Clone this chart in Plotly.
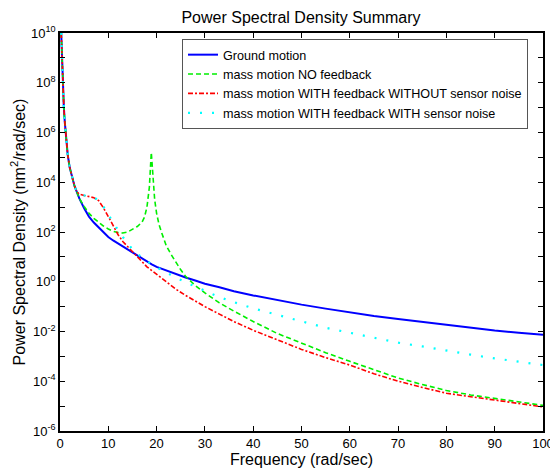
import plotly.graph_objects as go

# Frequencies (rad/sec) at which values were read
freq = [0.25, 0.4, 0.6, 0.8, 1.0, 1.3, 1.6, 2.0, 2.5, 3.0, 3.5, 4, 5, 6, 7, 8, 9, 10, 11, 12,
        13, 14, 15, 16, 17, 18, 19, 20, 22, 24, 26, 28, 30, 33, 36, 40, 45, 50, 55, 60,
        65, 70, 75, 80, 85, 90, 95, 100]

# log10 of PSD values
ground_log10 = [10.0, 8.9, 7.8, 7.0, 6.4, 5.7, 5.1, 4.6, 4.2, 3.85, 3.6, 3.35, 2.95, 2.62, 2.38, 2.18,
                1.98, 1.8, 1.66, 1.54, 1.41, 1.3, 1.18, 1.05, 0.92, 0.8, 0.7, 0.6, 0.45, 0.3,
                0.17, 0.05, -0.08, -0.22, -0.38, -0.55, -0.74, -0.92, -1.08, -1.24, -1.38,
                -1.5, -1.62, -1.73, -1.85, -1.96, -2.05, -2.13]

red_log10 = [10.0, 8.9, 7.8, 7.0, 6.4, 5.7, 5.1, 4.6, 4.2, 3.85, 3.62, 3.52, 3.47, 3.44, 3.38, 3.26,
             2.97, 2.62, 2.25, 1.9, 1.62, 1.42, 1.22, 0.99, 0.79, 0.6, 0.45, 0.3, 0.0, -0.3,
             -0.55, -0.78, -1.0, -1.3, -1.6, -1.95, -2.35, -2.72, -3.05, -3.35, -3.7, -4.0,
             -4.25, -4.48, -4.62, -4.75, -4.9, -5.03]

cyan_log10 = [10.0, 8.9, 7.8, 7.0, 6.4, 5.7, 5.1, 4.6, 4.2, 3.85, 3.62, 3.52, 3.47, 3.44, 3.38, 3.28,
              3.02, 2.7, 2.38, 2.08, 1.8, 1.55, 1.3, 1.12, 0.97, 0.83, 0.7, 0.58, 0.36, 0.17,
              -0.02, -0.2, -0.38, -0.62, -0.82, -1.07, -1.33, -1.6, -1.85, -2.05, -2.25,
              -2.45, -2.6, -2.78, -2.93, -3.08, -3.22, -3.35]

freq_nofb = [0.25, 0.4, 0.6, 0.8, 1.0, 1.3, 1.6, 2.0, 2.5, 3.0, 3.5, 4, 5, 6, 7, 8, 9, 10, 11, 12,
             13, 14, 15, 16, 17, 17.5, 18, 18.5, 18.9, 19.3, 19.6, 20, 20.5, 21, 22, 23, 24, 25,
             26, 27, 28, 30, 33, 36, 40, 45, 50, 55, 60, 65, 70, 75, 80, 85, 90, 95, 100]
nofb_log10 = [10.0, 8.9, 7.8, 7.0, 6.4, 5.7, 5.1, 4.6, 4.2, 3.85, 3.6, 3.35, 3.03, 2.75, 2.55, 2.38,
              2.24, 2.12, 2.03, 1.98, 1.96, 2.0, 2.1, 2.22, 2.4, 2.6, 3.0, 3.8, 5.2, 4.0, 3.3,
              2.75, 2.3, 2.0, 1.45, 1.1, 0.78, 0.48, 0.22, 0.02, -0.15, -0.45, -0.85, -1.18,
              -1.6, -2.08, -2.48, -2.85, -3.2, -3.55, -3.87, -4.13, -4.37, -4.55, -4.7, -4.85,
              -4.97]

names = ["Ground motion", "mass motion NO feedback",
         "mass motion WITH feedback WITHOUT sensor noise",
         "mass motion WITH feedback WITH sensor noise"]

y_exps = list(range(-6, 11))
y_ticktext = [f"10<sup>{e}</sup>" if e % 2 == 0 else "" for e in y_exps]
x_ticks = [0, 10, 20, 30, 40, 50, 60, 70, 80, 90, 100]


def to_psd(vals):
    return [10 ** v for v in vals]


fig = go.Figure()
fig.add_trace(go.Scatter(x=freq, y=to_psd(ground_log10), name=names[0], mode="lines",
                         line=dict(color="#0000ff", width=2)))
fig.add_trace(go.Scatter(x=freq_nofb, y=to_psd(nofb_log10), name=names[1], mode="lines",
                         line=dict(color="#00ee00", width=1.6, dash="5px,3px")))
fig.add_trace(go.Scatter(x=freq, y=to_psd(red_log10), name=names[2], mode="lines",
                         line=dict(color="#ff0000", width=1.6, dash="5px,2px,2px,2px")))
fig.add_trace(go.Scatter(x=freq, y=to_psd(cyan_log10), name=names[3], mode="lines",
                         line=dict(color="#00ffff", width=2.2, dash="2px,10px")))

font_family = "Liberation Sans, Arial, sans-serif"

# The page body has an 8px default margin, so the figure is 8px smaller each way.
W, H = 550, 461

fig.update_layout(
    width=W, height=H,
    margin=dict(l=52, r=15, t=25, b=38, autoexpand=False),
    paper_bgcolor="white", plot_bgcolor="white",
    font=dict(family=font_family, size=13, color="black"),
    title=dict(text="Power Spectral Density Summary", x=293 / W, xanchor="center",
               y=1 - 9 / H, yanchor="middle", yref="container",
               font=dict(size=16, color="black")),
    showlegend=True,
    legend=dict(x=0.2526, y=0.985, xanchor="left", yanchor="top",
                bordercolor="#555555", borderwidth=1, bgcolor="white",
                font=dict(size=12.6, color="black"), tracegroupgap=0),
    xaxis=dict(range=[0, 100], tickvals=x_ticks, ticks="inside", ticklen=5,
               tickcolor="black", showline=True, linecolor="black", linewidth=1.5,
               mirror="ticks", showgrid=False, zeroline=False, automargin=False,
               title=dict(text="Frequency (rad/sec)", font=dict(size=16), standoff=3),
               tickfont=dict(size=13)),
    yaxis=dict(type="log", range=[-6, 10], tickvals=[10 ** e for e in y_exps],
               ticktext=y_ticktext, ticks="inside", ticklen=5, tickcolor="black",
               showline=True, linecolor="black", linewidth=1.5, mirror="ticks",
               showgrid=False, zeroline=False, automargin=False,
               title=dict(text="Power Spectral Density (nm<sup>2</sup>/rad/sec)",
                          font=dict(size=16), standoff=3),
               tickfont=dict(size=13)),
)

fig.write_html("out.html")
